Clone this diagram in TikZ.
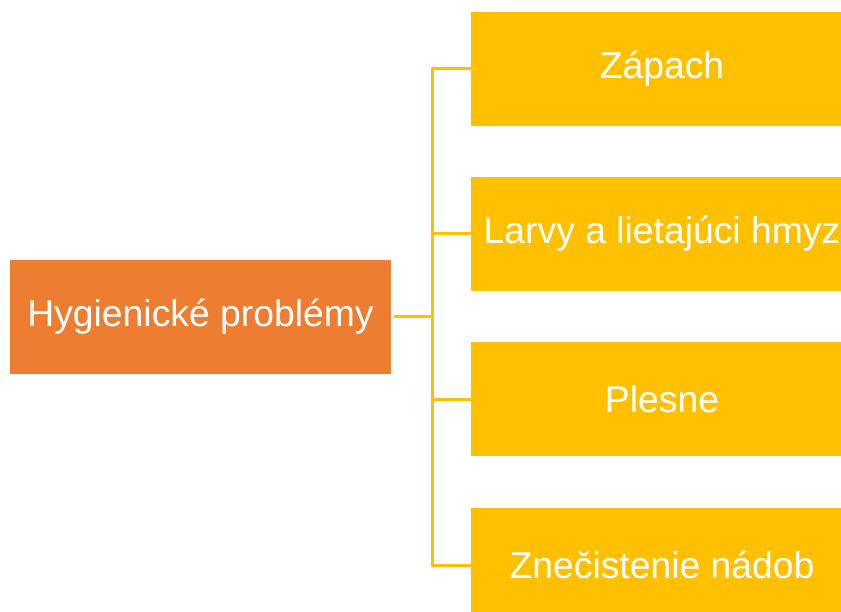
\documentclass[tikz,border=0pt]{standalone}
\usepackage{fontspec}
\setmainfont{Liberation Sans}
\begin{document}
\begin{tikzpicture}[x=1pt,y=-1pt,
  mainbox/.style={fill=orangeC, draw=none, text=white, minimum width=381pt, minimum height=114pt, inner sep=0pt, font=\fontsize{37.3}{44}\selectfont},
  itembox/.style={fill=yellowC, draw=none, text=white, minimum width=382pt, minimum height=114pt, inner sep=0pt, font=\fontsize{37.3}{44}\selectfont},
  conn/.style={draw=yellowC, line width=3pt}]
\definecolor{orangeC}{HTML}{ED7D31}
\definecolor{yellowC}{HTML}{FFC000}
\useasboundingbox (0,0) rectangle (841,612);
\clip (0,0) rectangle (841,612);
\node[mainbox] (main) at (200.5,317) {\raisebox{-1.5pt}{Hygienické problémy}};
\node[itembox] (a) at (662,69) {\raisebox{-1.5pt}{Zápach}};
\node[itembox] (b) at (662,234) {\raisebox{-1.5pt}{Larvy a lietajúci hmyz}};
\node[itembox] (c) at (662,399) {\raisebox{-1.5pt}{Plesne}};
\node[itembox] (d) at (662,565) {\raisebox{-1.5pt}{Znečistenie nádob}};
\coordinate (j) at (432,317);
\coordinate (ja) at (432,69);
\coordinate (jd) at (432,565);
\draw[conn] ([xshift=3pt]main.east) -- (j);
\draw[conn] (a.west) -- (ja) -- (jd) -- (d.west);
\draw[conn] (b.west) -- (432,234);
\draw[conn] (c.west) -- (432,399);
\end{tikzpicture}
\end{document}
